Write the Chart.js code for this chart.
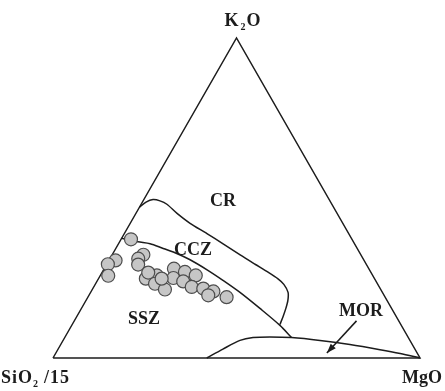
<!DOCTYPE html>
<html>
<head>
<meta charset="utf-8">
<script src="https://cdn.jsdelivr.net/npm/chart.js@4.4.0/dist/chart.umd.min.js"></script>
<style>
  html, body { margin: 0; padding: 0; background: #fff; }
  #ternary { display: block; }
</style>
</head>
<body>
<canvas id="ternary" width="445" height="391"></canvas>
<script>
// samples, % of (SiO2/15, K2O, MgO)
const sampleSiO2 = [60.2, 67.7, 70.4, 72.1, 59.3, 61.2, 62.2, 62.3, 58.8, 60.6, 58.8, 53.1, 54.7, 50.6, 52.5, 48.2, 51.1, 48.2, 45.9, 43.2, 60.7, 47.9, 58.0];
const sampleK2O  = [37.1, 30.5, 29.3, 25.7, 32.3, 31.0, 29.2, 24.8, 25.8, 23.2, 21.4, 27.9, 25.0, 26.9, 23.9, 25.8, 22.2, 21.7, 20.8, 19.0, 26.7, 19.6, 24.8];
const sampleMgO  = [2.7, 1.8, 0.3, 2.2, 8.5, 7.7, 8.6, 12.9, 15.4, 16.2, 19.8, 19.0, 20.3, 22.5, 23.5, 26.0, 26.7, 30.1, 33.3, 37.8, 12.6, 32.5, 17.2];

// field boundaries, [SiO2/15, K2O, MgO]
const crBoundary = [
  [52.9, 47.1, 0], [50.3, 48.7, 1.0], [48.0, 49.5, 2.5], [46.3, 49.1, 4.6], [44.9, 48.0, 7.0],
  [43.6, 45.2, 11.2], [41.6, 42.1, 16.3], [38.6, 38.9, 22.5], [35.8, 35.7, 28.5], [32.9, 32.2, 34.9],
  [30.3, 29.3, 40.4], [28.0, 26.8, 45.2], [26.3, 24.7, 48.9], [25.6, 23.0, 51.4], [25.7, 20.5, 53.8],
  [27.0, 18.0, 55.0], [28.8, 15.5, 55.7], [30.8, 13.0, 56.2], [32.9, 10.5, 56.6]
];
const sszBoundary = [
  [62.6, 37.4, 0], [58.7, 36.3, 5.0], [55.7, 35.7, 8.6], [53.1, 34.4, 12.5], [50.3, 32.9, 16.8],
  [47.3, 30.7, 22.0], [44.1, 27.4, 28.5], [41.6, 24.3, 34.2], [38.8, 20.5, 40.7], [35.9, 15.5, 48.7],
  [33.1, 10.2, 56.8], [31.8, 6.4, 61.8]
];
const morBoundary = [
  [58.1, 0, 41.9], [52.3, 2.8, 44.9], [46.3, 5.5, 48.2], [42.3, 6.4, 51.3], [37.6, 6.6, 55.8],
  [31.8, 6.4, 61.8], [24.5, 5.5, 70.0], [17.0, 4.2, 78.8], [9.6, 2.6, 87.8], [4.7, 1.4, 93.9], [0, 0, 100]
];
const morArrow = [[11.5, 11.6, 76.9], [24.6, 1.6, 73.9]];
const frame = [[100, 0, 0], [0, 0, 100], [0, 100, 0], [100, 0, 0]];

const fieldNames = ['CR', 'CCZ', 'SSZ', 'MOR'];
const fieldAt = [[29.2, 49.0, 21.8], [45.0, 33.6, 21.3], [69.1, 12.2, 18.7], [8.8, 14.6, 76.6]];

const H = Math.sqrt(3) / 2;
function toXY(c) {
  const t = c[0] + c[1] + c[2];
  return { x: (c[2] + c[1] / 2) / t, y: H * c[1] / t };
}

const samples = sampleSiO2.map((s, i) => toXY([s, sampleK2O[i], sampleMgO[i]]));
const ink = '#1c1c1c';
const FONT = '"Liberation Serif", "DejaVu Serif", serif';

function lineSet(pts, tension) {
  return {
    data: pts.map(toXY), showLine: true, pointRadius: 0, borderColor: ink,
    borderWidth: 1.5, tension: tension, clip: false, fill: false
  };
}

function drawRich(ctx, parts, x, y) {
  let cx = x;
  parts.forEach(p => {
    ctx.font = 'bold ' + (p.sub ? 10 : 18) + 'px ' + FONT;
    ctx.fillText(p.t, cx, y + (p.sub ? 4 : 0));
    cx += ctx.measureText(p.t).width + (p.gap || 0);
  });
}

const labelsPlugin = {
  id: 'ternaryLabels',
  afterDatasetsDraw(chart) {
    const ctx = chart.ctx;
    const xs = chart.scales.x, ys = chart.scales.y;
    const px = p => ({ x: xs.getPixelForValue(p.x), y: ys.getPixelForValue(p.y) });
    ctx.save();
    ctx.fillStyle = ink;

    // arrowhead
    const a0 = px(toXY(morArrow[0])), a1 = px(toXY(morArrow[1]));
    const ang = Math.atan2(a1.y - a0.y, a1.x - a0.x);
    ctx.beginPath();
    ctx.moveTo(a1.x, a1.y);
    ctx.lineTo(a1.x - 10 * Math.cos(ang - 0.35), a1.y - 10 * Math.sin(ang - 0.35));
    ctx.lineTo(a1.x - 10 * Math.cos(ang + 0.35), a1.y - 10 * Math.sin(ang + 0.35));
    ctx.closePath();
    ctx.fill();

    // field names
    ctx.textAlign = 'center';
    ctx.textBaseline = 'middle';
    ctx.font = 'bold 18px ' + FONT;
    fieldNames.forEach((n, i) => {
      const p = px(toXY(fieldAt[i]));
      ctx.fillText(n, p.x, p.y);
    });

    // apex labels
    ctx.textAlign = 'left';
    ctx.textBaseline = 'alphabetic';
    const top = px(toXY([0, 100, 0])), left = px(toXY([100, 0, 0])), right = px(toXY([0, 0, 100]));
    drawRich(ctx, [{ t: 'K', gap: 2 }, { t: '2', sub: true, gap: 1 }, { t: 'O' }], top.x - 12, top.y - 12.5);
    ctx.letterSpacing = '1px';
    drawRich(ctx, [{ t: 'SiO' }, { t: '2', sub: true, gap: 5 }, { t: '/15' }], left.x - 52, left.y + 25);
    ctx.letterSpacing = '0px';
    drawRich(ctx, [{ t: 'MgO' }], right.x - 18, right.y + 24.5);
    ctx.restore();
  }
};

new Chart(document.getElementById('ternary'), {
  type: 'scatter',
  data: {
    datasets: [
      {
        data: samples, pointRadius: 6.5, pointBackgroundColor: '#c6c6c6',
        pointBorderColor: '#4d4d4d', pointBorderWidth: 1.2, clip: false
      },
      lineSet(crBoundary, 0.25),
      lineSet(sszBoundary, 0.3),
      lineSet(morBoundary, 0.3),
      lineSet(morArrow, 0),
      lineSet(frame, 0)
    ]
  },
  options: {
    responsive: false,
    animation: false,
    layout: { padding: { left: 53, right: 25, top: 38, bottom: 33 } },
    scales: {
      x: { type: 'linear', min: 0, max: 1, display: false },
      y: { type: 'linear', min: 0, max: H, display: false }
    },
    plugins: { legend: { display: false }, tooltip: { enabled: false } }
  },
  plugins: [labelsPlugin]
});
</script>
</body>
</html>
